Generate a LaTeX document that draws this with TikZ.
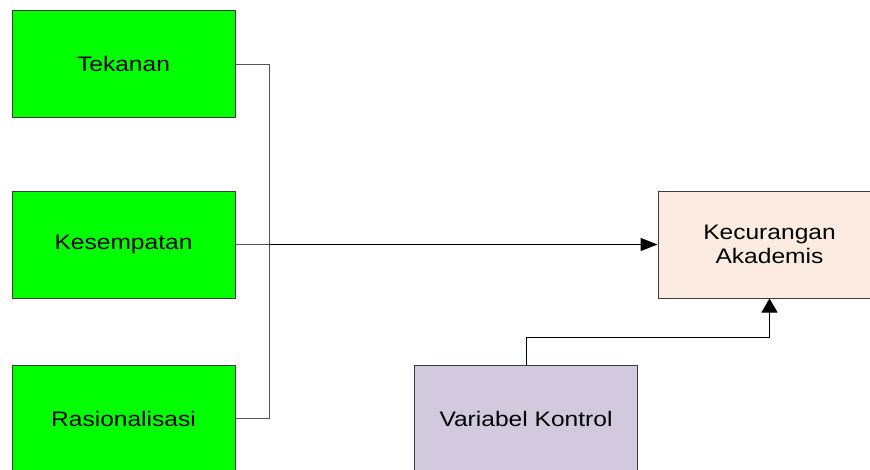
\documentclass[tikz,border=0pt]{standalone}
\usepackage{fontspec}
\setmainfont{Liberation Sans}
\usetikzlibrary{arrows.meta}
\definecolor{boxgreen}{RGB}{0,255,0}
\definecolor{peach}{RGB}{252,235,224}
\definecolor{lavender}{RGB}{210,201,223}
\definecolor{edge}{RGB}{60,60,60}
\definecolor{wire}{RGB}{85,85,85}
\newcommand{\lbl}[1]{\scalebox{1.17}[1]{#1}}
\tikzset{
  factor/.style={draw=edge, line width=1pt, minimum width=223pt, minimum height=107pt,
    inner sep=0pt, align=center, font=\fontsize{21}{24}\selectfont},
  wireline/.style={draw=wire, line width=1pt},
  mainarrow/.style={draw=black, line width=1.3pt, -{Triangle[length=17pt,width=13pt]}},
  uparrow/.style={draw=black, line width=1pt, -{Triangle[length=14pt,width=16pt]}}
}
\begin{document}
\begin{tikzpicture}[x=1pt, y=-1pt]
  \useasboundingbox (0,0) rectangle (870,469);
  \clip (0,0) rectangle (870,469);
  \fill[white] (0,0) rectangle (870,469);

  % independent variables
  \node[factor, fill=boxgreen] (tek) at (123.5,64) {\lbl{Tekanan}};
  \node[factor, fill=boxgreen] (kes) at (123.5,244.5) {\lbl{Kesempatan}};
  \node[factor, fill=boxgreen] (ras) at (123.5,418.5) {\lbl{Rasionalisasi}};

  % dependent variable and control
  \node[factor, fill=peach] (kec) at (769.5,244.5) {\lbl{Kecurangan}\\[0pt]\lbl{Akademis}};
  \node[factor, fill=lavender] (var) at (526,418.5) {\lbl{Variabel Kontrol}};

  % bus joining the three factors
  \coordinate (jt) at (269,64);
  \coordinate (jm) at (269,244.5);
  \coordinate (jb) at (269,418.5);
  \draw[wireline] (tek.east) -- (jt) -- (jb) -- (ras.east);
  \draw[wireline] (kes.east) -- (jm);
  \draw[mainarrow] (jm) -- (kec.west);

  % control variable link
  \draw[uparrow] (var.north) -- ++(0,-27) -| (kec.south);
\end{tikzpicture}
\end{document}
